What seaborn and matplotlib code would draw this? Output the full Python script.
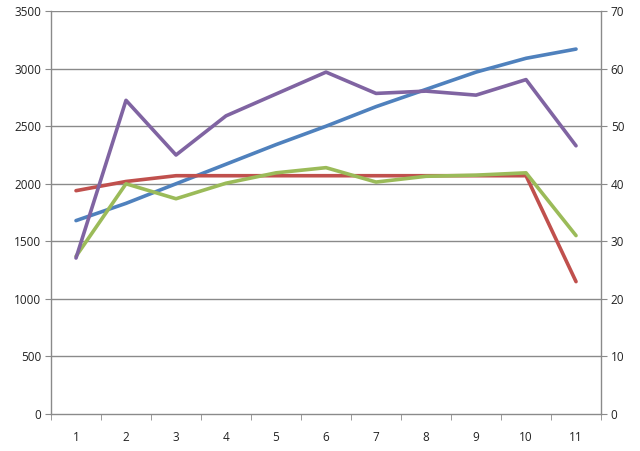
import seaborn as sns
import matplotlib.pyplot as plt
import numpy as np
import pandas as pd

# values (left axis units)
categories = [1, 2, 3, 4, 5, 6, 7, 8, 9, 10, 11]
blue_vals = [1680, 1830, 2000, 2170, 2340, 2500, 2670, 2820, 2970, 3090, 3170]
red_vals = [1940, 2020, 2070, 2070, 2070, 2070, 2070, 2070, 2070, 2070, 1150]
green_vals = [1370, 2000, 1870, 2005, 2095, 2140, 2015, 2065, 2075, 2095, 1550]
purple_vals = [1355, 2725, 2250, 2590, 2780, 2970, 2785, 2805, 2770, 2905, 2330]

left_ticks = [0, 500, 1000, 1500, 2000, 2500, 3000, 3500]
right_ticks = [0, 10, 20, 30, 40, 50, 60, 70]

series = {
    "blue": blue_vals,
    "red": red_vals,
    "green": green_vals,
    "purple": purple_vals,
}
colors = {
    "blue": "#4F81BD",
    "red": "#C0504D",
    "green": "#9BBB59",
    "purple": "#8064A2",
}

df = pd.concat(
    [pd.DataFrame({"x": categories, "y": v, "series": k}) for k, v in series.items()],
    ignore_index=True,
)

sns.set_style("white")
plt.rcParams["font.family"] = ["Open Sans", "DejaVu Sans"]

fig = plt.figure(figsize=(6.4, 4.51), dpi=100)
ax = fig.add_axes([0.0797, 0.082, 0.8594, 0.8934])

grid_col = "#8a8a8a"
for t in left_ticks[1:]:
    ax.axhline(t, color=grid_col, lw=1.0, zorder=0)

sns.lineplot(
    data=df, x="x", y="y", hue="series", palette=colors,
    linewidth=2.6, legend=False, ax=ax, zorder=3,
)

ax.set_xlim(0.5, 11.5)
ax.set_ylim(0, 3500)
ax.set_yticks(left_ticks)
ax.set_xticks(categories)
ax.set_xticks(np.arange(0.5, 12, 1), minor=True)
ax.set_xlabel("")
ax.set_ylabel("")

ax2 = ax.twinx()
ax2.set_ylim(0, 70)
ax2.set_yticks(right_ticks)

for a in (ax, ax2):
    for s in a.spines.values():
        s.set_visible(False)
ax.spines["left"].set_visible(True)
ax.spines["bottom"].set_visible(True)
ax2.spines["right"].set_visible(True)
for s in (ax.spines["left"], ax.spines["bottom"], ax2.spines["right"]):
    s.set_color(grid_col)
    s.set_linewidth(1.0)

ax.tick_params(axis="y", direction="out", length=4, color=grid_col,
               labelsize=8.5, labelcolor="#222222", pad=3, left=True)
ax.tick_params(axis="x", which="major", length=0, labelsize=8.5,
               labelcolor="#222222", pad=12)
ax.tick_params(axis="x", which="minor", direction="out", length=4,
               color=grid_col, bottom=True)
ax2.tick_params(axis="y", direction="out", length=4, color=grid_col,
                labelsize=8.5, labelcolor="#222222", pad=3, right=True)

fig.savefig("out.png", dpi=100)
